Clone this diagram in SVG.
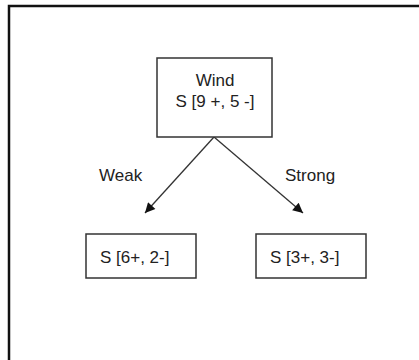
<svg xmlns="http://www.w3.org/2000/svg" width="419" height="360" viewBox="0 0 419 360">
<defs>
<style>
.box{fill:#fff;stroke:#333;stroke-width:1.5}
.t{font-family:"Liberation Sans",Arial,sans-serif;font-size:17px;fill:#222}
.c{text-anchor:middle}
.edge{stroke:#333;stroke-width:1.3;fill:none}
</style>
<marker id="arr" viewBox="0 0 10 10" refX="10" refY="5" markerWidth="12" markerHeight="10" markerUnits="userSpaceOnUse" orient="auto">
<path d="M0,0 L10,5 L0,10 z" fill="#111"/>
</marker>
</defs>
<rect width="419" height="360" fill="#fff"/>
<path d="M9,360 V6 H419" fill="none" stroke="#111" stroke-width="2.5"/>
<g id="connectors">
<line class="edge" x1="214" y1="137" x2="145" y2="213" marker-end="url(#arr)"/>
<line class="edge" x1="214" y1="137" x2="303" y2="213" marker-end="url(#arr)"/>
<text class="t" x="99" y="181">Weak</text>
<text class="t" x="285" y="181">Strong</text>
</g>
<g id="root">
<rect class="box" x="157" y="58" width="115" height="79"/>
<text class="t c" x="215" y="86">Wind</text>
<text class="t c" x="215" y="107">S [9 +, 5 -]</text>
</g>
<g id="weak">
<rect class="box" x="86" y="234" width="110" height="44"/>
<text class="t" x="100" y="263">S [6+, 2-]</text>
</g>
<g id="strong">
<rect class="box" x="256" y="234" width="110" height="44"/>
<text class="t" x="270" y="263">S [3+, 3-]</text>
</g>
</svg>
